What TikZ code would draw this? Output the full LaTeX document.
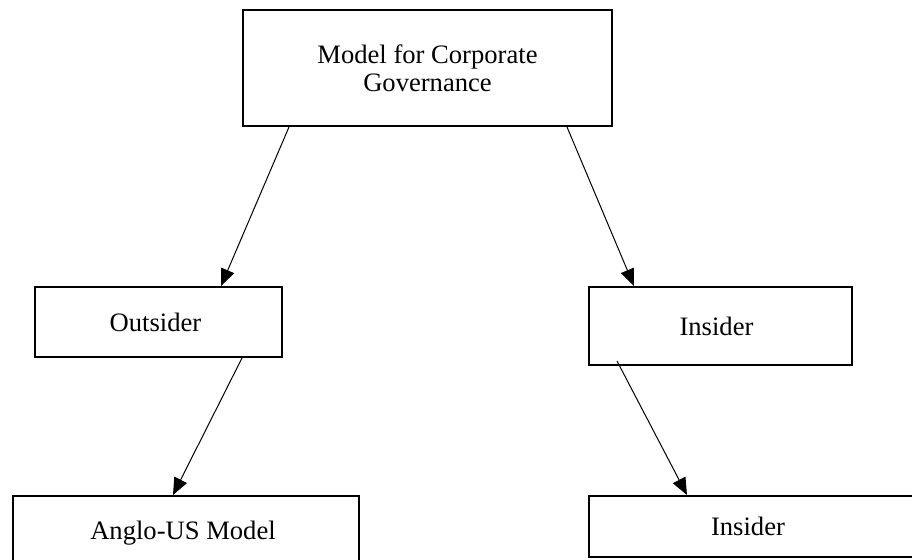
\documentclass[tikz,border=0pt]{standalone}
\usepackage{fontspec}
\setmainfont{Liberation Serif}
\usepackage{tikz}
\usetikzlibrary{arrows.meta}

\tikzset{
  box/.style={draw, line width=1pt, inner sep=0pt, align=center,
    font=\fontsize{13.3}{13.8}\selectfont},
  link/.style={-{Triangle[length=8.5pt,width=7pt]}, line width=0.5pt}
}

\begin{document}
\begin{tikzpicture}[x=0.5pt, y=-0.5pt]
\clip (0,0) rectangle (912,559);
\node[box, minimum width=184.5pt, minimum height=58pt] (model) at (427.5,68)
    {Model for Corporate\\Governance};
\node[box, minimum width=123.5pt, minimum height=35pt] (outsider) at (158.5,322)
    {\hspace*{-3pt}Outsider};
\node[box, minimum width=131.5pt, minimum height=39pt] (insider) at (720.5,326)
    {\hspace*{-4pt}Insider};
\node[box, minimum width=173pt, minimum height=37pt] (anglo) at (186,533)
    {\hspace*{-3pt}Anglo-US Model};
\node[box, minimum width=168pt, minimum height=30.5pt] (insidertwo) at (757,526.5)
    {Insider\hspace*{9pt}};

\draw[link] ([xshift=23.5pt]model.south west) -- ([xshift=93.5pt]outsider.north west);
\draw[link] ([xshift=162.5pt]model.south west) -- ([xshift=23pt]insider.north west);
\draw[link] ([xshift=104pt]outsider.south west) -- ([xshift=80.5pt]anglo.north west);
\draw[link] ([xshift=14.5pt,yshift=2.5pt]insider.south west) -- ([xshift=49.5pt]insidertwo.north west);
\end{tikzpicture}
\end{document}
